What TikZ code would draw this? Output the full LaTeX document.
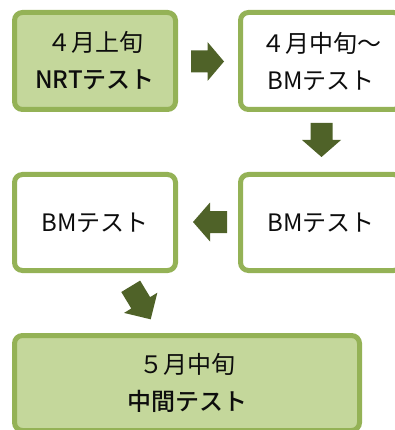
\documentclass[tikz,border=0pt]{standalone}
\usepackage{fontspec}
\setmainfont{Noto Sans CJK JP}[BoldFont={Noto Sans CJK JP Medium}]
\definecolor{boxfill}{HTML}{C4D79B}
\definecolor{boxline}{HTML}{94B256}
\definecolor{arrowc}{HTML}{4F6228}
\tikzset{
  box/.style={draw=boxline, line width=5pt, rounded corners=8pt, rectangle,
    minimum width=161pt, minimum height=97pt, align=center, inner sep=0pt,
    font=\fontsize{24}{37}\selectfont, text=black!95},
  greenbox/.style={box, fill=boxfill},
  whitebox/.style={box, fill=white},
  pics/blockarrow/.style={code={
    \fill[arrowc] (0,-11) -- (#1*0.5,-11) -- (#1*0.5,-19.5) -- (#1,0)
      -- (#1*0.5,19.5) -- (#1*0.5,11) -- (0,11) -- cycle;}}
}
\begin{document}
\begin{tikzpicture}[x=1pt,y=-1pt]
\useasboundingbox (0,0) rectangle (395,430);
\clip (0,0) rectangle (395,430);
\node[greenbox] (b1) at (95,61) {４月上旬\\\textbf{NRTテスト}};
\node[whitebox] (b2) at (321,61) {４月中旬～\\BMテスト};
\node[whitebox, minimum height=96pt] (b4) at (321,222.5) {BMテスト};
\node[whitebox, minimum height=96pt] (b3) at (95,222.5) {BMテスト};
\node[greenbox, minimum width=345pt, minimum height=95pt] (b5) at (187,383) {５月中旬\\\textbf{中間テスト}};
\coordinate (a1) at (191,61.5);
\coordinate (a2) at (321.5,123);
\coordinate (a3) at (227,222);
\coordinate (a4) at (130.7,286.3);
\pic at (a1) {blockarrow=33};
\pic[rotate=-90] at (a2) {blockarrow=34};
\pic[rotate=180] at (a3) {blockarrow=34};
\pic[rotate=-58.8] at (a4) {blockarrow=38.6};
\end{tikzpicture}
\end{document}
